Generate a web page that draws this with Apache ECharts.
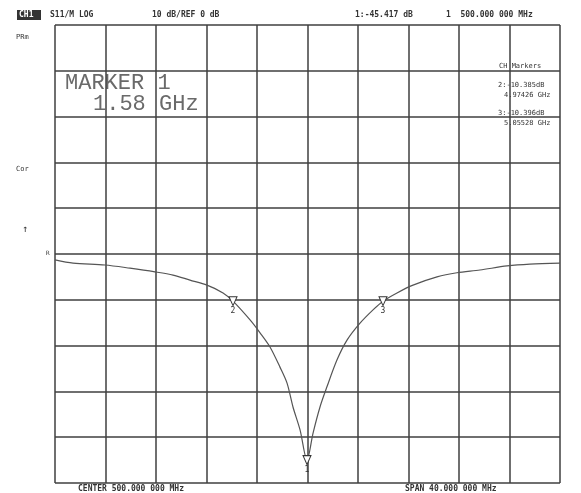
<!DOCTYPE html>
<html>
<head>
<meta charset="utf-8">
<script src="https://cdn.jsdelivr.net/npm/echarts@6/dist/echarts.min.js"></script>
<style>html,body{margin:0;padding:0;background:#fff}#c{width:581px;height:493px}</style>
</head>
<body>
<div id="c"></div>
<script>
// Frequency (MHz) and magnitude (dB)
const freqMHz = [480.0, 481.43, 483.96, 485.94, 487.92, 489.35, 490.69, 492.04, 493.31, 494.10,
  495.45, 496.24, 497.03, 497.82, 498.38, 498.85, 499.41, 499.96, 500.44, 500.99,
  501.54, 502.34, 503.13, 504.16, 505.19, 505.98, 507.09, 508.36, 510.26, 511.84,
  513.66, 515.80, 517.62, 520.0];
const magDB = [-1.3, -2.0, -2.4, -3.1, -3.9, -4.6, -5.7, -6.8, -8.5, -10.3,
  -14.4, -17.2, -20.3, -24.7, -28.2, -33.4, -38.4, -45.0, -39.1, -33.4,
  -29.0, -23.1, -18.8, -15.1, -12.2, -10.3, -8.5, -6.8, -5.0, -4.1,
  -3.5, -2.6, -2.2, -2.0];
// Marker numbers and the trace point index each one sits on
const markerNames = ['1', '2', '3'];
const markerIdx = [17, 9, 25];
// Axis settings (10 dB/div, REF 0 dB, center 500 MHz, span 40 MHz)
const xTicks = [480, 520, 4];
const yTicks = [-50, 50, 10];

const chart = echarts.init(document.getElementById('c'));
const mono = 'DejaVu Sans Mono';
const txt = (x, y, s, size, extra) => Object.assign({
  type: 'text', left: x, top: y,
  style: { text: s, font: (size || 8) + 'px ' + mono, fill: '#333' }
}, extra || {});

chart.setOption({
  backgroundColor: '#fff',
  animation: false,
  grid: { left: 55, top: 25, width: 505, height: 458 },
  xAxis: {
    type: 'value', min: xTicks[0], max: xTicks[1], interval: xTicks[2],
    axisLabel: { show: false }, axisTick: { show: false },
    axisLine: { show: false },
    splitLine: { show: true, lineStyle: { color: '#3f3f3f', width: 1.5 } }
  },
  yAxis: {
    type: 'value', min: yTicks[0], max: yTicks[1], interval: yTicks[2],
    axisLabel: { show: false }, axisTick: { show: false },
    axisLine: { show: false },
    splitLine: { show: true, lineStyle: { color: '#3f3f3f', width: 1.5 } }
  },
  series: [{
    type: 'line',
    data: freqMHz.map((f, i) => [f, magDB[i]]),
    smooth: 0.3,
    showSymbol: false,
    lineStyle: { color: '#555', width: 1.2 },
    markPoint: {
      symbol: 'path://M0,0 L10,0 L5,10 Z',
      symbolSize: [8, 9],
      symbolOffset: [0, 0],
      itemStyle: { color: '#fff', borderColor: '#333', borderWidth: 1 },
      label: { show: true, position: 'bottom', distance: 1, color: '#333', fontSize: 8, fontFamily: mono },
      data: markerIdx.map((k, j) => ({
        coord: [freqMHz[k], magDB[k]], value: markerNames[j],
        label: { formatter: markerNames[j] }
      }))
    }
  }],
  graphic: [
    { type: 'rect', left: 17, top: 10, shape: { width: 24, height: 10 }, style: { fill: '#333' } },
    txt(19, 11, 'CH1', 8, { style: { text: 'CH1', font: 'bold 8px ' + mono, fill: '#fff' } }),
    txt(50, 11, 'S11/M LOG', 8, { style: { text: 'S11/M LOG', font: 'bold 8px ' + mono, fill: '#333' } }),
    txt(152, 11, '10 dB/REF 0 dB', 8, { style: { text: '10 dB/REF 0 dB', font: 'bold 8px ' + mono, fill: '#333' } }),
    txt(355, 11, '1:-45.417 dB', 8, { style: { text: '1:-45.417 dB', font: 'bold 8px ' + mono, fill: '#333' } }),
    txt(446, 11, '1  500.000 000 MHz', 8, { style: { text: '1  500.000 000 MHz', font: 'bold 8px ' + mono, fill: '#333' } }),
    txt(16, 34, 'PRm', 7),
    txt(16, 166, 'Cor', 7),
    txt(22, 224, '↑', 10),
    txt(46, 250, 'R', 6),
    txt(65, 72, 'MARKER 1', 22, { style: { text: 'MARKER 1', font: '22px "Liberation Mono"', fill: '#6a6a6a' } }),
    txt(93, 93, '1.58 GHz', 22, { style: { text: '1.58 GHz', font: '22px "Liberation Mono"', fill: '#6a6a6a' } }),
    txt(499, 63, 'CH Markers', 7),
    txt(498, 82, '2:-10.385dB', 7),
    txt(504, 92, '4.97426 GHz', 7),
    txt(498, 110, '3:-10.396dB', 7),
    txt(504, 120, '5.05528 GHz', 7),
    txt(78, 485, 'CENTER 500.000 000 MHz', 8, { style: { text: 'CENTER 500.000 000 MHz', font: 'bold 8px ' + mono, fill: '#333' } }),
    txt(405, 485, 'SPAN 40.000 000 MHz', 8, { style: { text: 'SPAN 40.000 000 MHz', font: 'bold 8px ' + mono, fill: '#333' } })
  ]
});
</script>
</body>
</html>
